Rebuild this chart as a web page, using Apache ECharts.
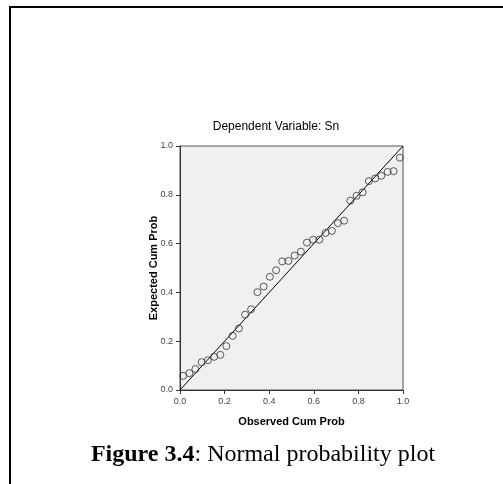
<!DOCTYPE html>
<html>
<head>
<meta charset="utf-8">
<style>
html,body{margin:0;padding:0;background:#fff;}
#chart{width:503px;height:484px;}
</style>
<script src="https://cdn.jsdelivr.net/npm/echarts@6/dist/echarts.min.js"></script>
</head>
<body>
<div id="chart"></div>
<script>
// Observed cumulative probability (x) for each of the 36 residual points
var observedCumProb = [0.014,0.042,0.069,0.097,0.125,0.153,0.181,0.208,0.236,0.264,0.292,0.319,0.347,0.375,0.403,0.431,0.458,0.486,0.514,0.542,0.569,0.597,0.625,0.653,0.681,0.708,0.736,0.764,0.792,0.819,0.847,0.875,0.903,0.931,0.958,0.986];
// Expected cumulative probability (y)
var expectedCumProb = [0.058,0.069,0.086,0.114,0.122,0.136,0.144,0.180,0.222,0.252,0.309,0.331,0.401,0.424,0.464,0.491,0.527,0.529,0.551,0.567,0.604,0.616,0.616,0.644,0.652,0.684,0.694,0.776,0.796,0.810,0.856,0.867,0.878,0.894,0.897,0.952];
// Reference line endpoints
var refLineX = [0, 1];
var refLineY = [0, 1];

var points = observedCumProb.map(function (x, i) { return [x, expectedCumProb[i]]; });
var refLine = refLineX.map(function (x, i) { return [x, refLineY[i]]; });

var chart = echarts.init(document.getElementById('chart'), null, {renderer: 'canvas'});
var axisCommon = {
  type: 'value', min: 0, max: 1, interval: 0.2,
  axisLine: {show: true, onZero: false, lineStyle: {color: '#333', width: 1}},
  axisTick: {show: true, length: 4, lineStyle: {color: '#333'}},
  splitLine: {show: false},
  axisLabel: {
    color: '#444', fontSize: 9, fontFamily: 'Liberation Sans, Arial', margin: 7,
    formatter: function (v) { return v.toFixed(1); }
  },
  nameLocation: 'middle',
  nameMoveOverlap: false,
  nameTextStyle: {fontFamily: 'Liberation Sans, Arial', fontSize: 11, fontWeight: 'bold', color: '#000'}
};
chart.setOption({
  animation: false,
  backgroundColor: '#fff',
  title: [{
    text: 'Dependent Variable: Sn',
    left: 271, top: 116, textAlign: 'center',
    textStyle: {fontFamily: 'Liberation Sans, Arial', fontSize: 12, fontWeight: 'normal', color: '#000'}
  }, {
    text: '{b|Figure 3.4}{n|: Normal probability plot}',
    left: 258, top: 438, textAlign: 'center',
    textStyle: {
      rich: {
        b: {fontFamily: 'Liberation Serif, Times New Roman', fontSize: 24, fontWeight: 'bold', color: '#000'},
        n: {fontFamily: 'Liberation Serif, Times New Roman', fontSize: 24, fontWeight: 'normal', color: '#000'}
      }
    }
  }],
  grid: {
    left: 180, top: 146, width: 223, height: 244,
    show: true, backgroundColor: '#f0f0f0', borderColor: '#555', borderWidth: 1
  },
  xAxis: Object.assign({}, axisCommon, {name: 'Observed Cum Prob', nameGap: 26}),
  yAxis: Object.assign({}, axisCommon, {name: 'Expected Cum Prob', nameGap: 21, nameRotate: 90}),
  graphic: [
    {type: 'line', shape: {x1: 10, y1: 7, x2: 503, y2: 7}, style: {stroke: '#000', lineWidth: 2}},
    {type: 'line', shape: {x1: 10, y1: 6, x2: 10, y2: 484}, style: {stroke: '#000', lineWidth: 2}}
  ],
  series: [{
    type: 'line', data: refLine, symbol: 'none',
    lineStyle: {color: '#000', width: 1}, z: 2, silent: true
  }, {
    type: 'scatter', data: points, symbol: 'circle', symbolSize: 7,
    itemStyle: {color: 'rgba(0,0,0,0)', borderColor: '#333', borderWidth: 1}, z: 3
  }]
});
</script>
</body>
</html>
